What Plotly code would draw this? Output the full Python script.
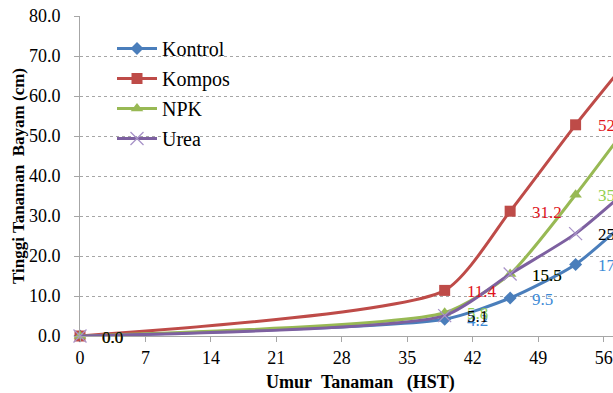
import plotly.graph_objects as go

days = [0, 39, 46, 53, 60]
kontrol = [0.0, 4.2, 9.5, 17.9, 32.0]
kompos = [0.0, 11.4, 31.2, 52.8, 73.0]
npk = [0.0, 5.8, 15.5, 35.3, 57.0]
urea = [0.0, 5.1, 15.5, 25.6, 39.5]
series_names = ["Kontrol", "Kompos", "NPK", "Urea"]
x_ticks = [0, 7, 14, 21, 28, 35, 42, 49, 56]
y_ticks = [0, 10, 20, 30, 40, 50, 60, 70, 80]

FONT = "Times New Roman, Liberation Serif, serif"
W, H = 613, 393
ML, MR, MT, MB = 80, 0, 16, 57
X_MAX = 57.0

styles = [
    dict(color="#4A7EBB", label="#3C8AD6", symbol="diamond", size=10, mline=None),
    dict(color="#BE4B48", label="#E0141B", symbol="square", size=11, mline=None),
    dict(color="#98B954", label="#92D050", symbol="triangle-up", size=11, mline=None),
    dict(color="#7D60A0", label="#000000", symbol="x-thin", size=13,
         mline=dict(width=1.3, color="#A893C8")),
]
values = [kontrol, kompos, npk, urea]

fig = go.Figure()
for name, vals, st in zip(series_names, values, styles):
    marker = dict(symbol=st["symbol"], size=st["size"], color=st["color"])
    if st["mline"]:
        marker["line"] = st["mline"]
    fig.add_trace(go.Scatter(
        x=days, y=vals, name=name, mode="lines+markers",
        line=dict(color=st["color"], width=3, shape="spline", smoothing=0.6),
        marker=marker, cliponaxis=False, legendgroup=name,
    ))

annotations = []
for vals, st in zip(values, styles):
    for d, v in zip(days, vals):
        if d > X_MAX:
            continue
        annotations.append(dict(
            x=d, y=v, xref="x", yref="y", text=f"{v:.1f}", showarrow=False,
            xanchor="left", yanchor="middle", xshift=20, yshift=-1,
            font=dict(family=FONT, size=17, color=st["label"]),
        ))

pw = W - ML - MR
annotations.append(dict(
    text="<b>Umur&nbsp;&nbsp;Tanaman&nbsp;&nbsp;&nbsp;(HST)</b>", xref="paper", yref="paper",
    x=(360 - ML) / pw, y=-(382 - (H - MB)) / (H - MT - MB), showarrow=False,
    xanchor="center", yanchor="middle", font=dict(family=FONT, size=18, color="#000000"),
))
annotations.append(dict(
    text="<b>Tinggi Tanaman&nbsp;&nbsp;Bayam (cm)</b>", xref="paper", yref="paper",
    x=-(ML - 18) / pw, y=0.5, showarrow=False, textangle=-90,
    xanchor="center", yanchor="middle", font=dict(family=FONT, size=17, color="#000000"),
))

fig.update_layout(
    width=W, height=H, margin=dict(l=ML, r=MR, t=MT, b=MB),
    paper_bgcolor="white", plot_bgcolor="white",
    font=dict(family=FONT, size=17, color="#000000"),
    showlegend=True,
    legend=dict(
        x=(112 - ML) / pw, y=(H - MB - 29) / (H - MT - MB), xanchor="left", yanchor="top",
        bgcolor="rgba(0,0,0,0)", font=dict(family=FONT, size=20, color="#000000"),
        itemwidth=40, tracegroupgap=1, traceorder="grouped",
    ),
    annotations=annotations,
    xaxis=dict(
        range=[0, X_MAX], tickvals=x_ticks, ticktext=[str(t) for t in x_ticks],
        showgrid=False, zeroline=False, showline=True, linecolor="#A6A6A6", linewidth=1,
        ticks="outside", ticklen=5, tickcolor="#A6A6A6",
        tickfont=dict(family=FONT, size=18, color="#000000"),
    ),
    yaxis=dict(
        range=[0, 80], tickvals=y_ticks, tickformat=".1f",
        showgrid=True, gridcolor="#A6A6A6", griddash="dot", gridwidth=1,
        zeroline=False, showline=True, linecolor="#A6A6A6", linewidth=1,
        ticks="outside", ticklen=5, tickcolor="#A6A6A6", ticklabelstandoff=10,
        tickfont=dict(family=FONT, size=18, color="#000000"),
    ),
)

fig.write_html("out.html")
